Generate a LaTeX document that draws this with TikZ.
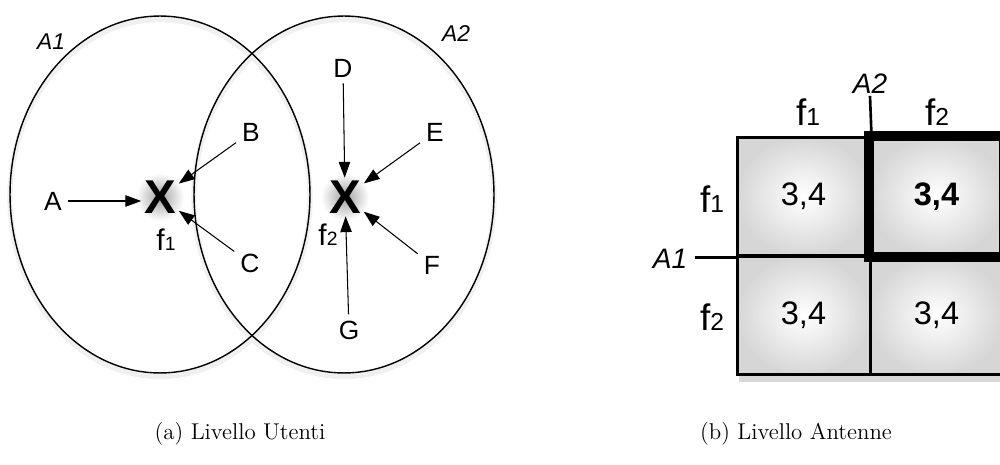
\documentclass[tikz,border=0pt]{standalone}
\usepackage{fontspec}
\newfontfamily\helv{Liberation Sans}
\usetikzlibrary{arrows.meta,shapes.geometric,shadows}

\newcommand{\freq}[3]{{\fontsize{#2}{#2}\selectfont f}{\fontsize{#3}{#3}\selectfont #1}}

\tikzset{
  user/.style={font=\helv\fontsize{15}{15}\selectfont},
  antenna/.style={font=\helv\bfseries\fontsize{27}{27}\selectfont, inner sep=1.5pt},
  zone/.style={draw, ellipse, line width=0.8pt, minimum width=6cm, minimum height=7.14cm, inner sep=0pt},
  zonelbl/.style={font=\helv\itshape\fontsize{13}{13}\selectfont},
  link/.style={line width=0.6pt, -{Triangle[length=9pt,width=6.5pt]}},
  cell/.style={draw, line width=1.7pt, minimum width=2.66cm, minimum height=2.38cm, inner sep=0pt,
    shading=radial, inner color=white, outer color=gray!32,
    font=\helv\fontsize{18.5}{18.5}\selectfont},
  caption/.style={font=\fontsize{13}{15}\selectfont}
}

\begin{document}
\begin{tikzpicture}[x=0.02cm, y=-0.02cm]
\useasboundingbox (0,0) rectangle (1000,465);

% (a) users
\shade[inner color=gray!75, outer color=white] (160,197) circle (24);
\shade[inner color=gray!75, outer color=white] (345,197) circle (24);
\draw[gray!12, line width=3pt] (160,198) ellipse (150 and 178.5);
\draw[gray!12, line width=3pt] (344,198) ellipse (150 and 178.5);
\node[zone] (ellA1) at (160,194.5) {};
\node[zone] (ellA2) at (344,194.5) {};
\node[zonelbl] (lblA1) at (51,42) {A1};
\node[zonelbl] (lblA2) at (456,34) {A2};

\node[antenna] (xf1) at (160,197) {X};
\node[antenna] (xf2) at (345,197) {X};
\node[font=\helv] (lblf1) at (166,240) {\freq{1}{17}{11}};
\node[font=\helv] (lblf2) at (328,235) {\freq{2}{17}{11}};

\node[user] (a) at (53,201) {A};
\node[user] (b) at (251,132) {B};
\node[user] (c) at (250,263) {C};
\node[user] (d) at (343,68) {D};
\node[user] (e) at (435,132) {E};
\node[user] (f) at (432,265) {F};
\node[user] (g) at (349,330) {G};

\draw[link] (a) -- (a -| xf1.west);
\draw[link] (b) -- (xf1);
\draw[link] (c) -- (xf1);
\draw[link] (d) -- (xf2);
\draw[link] (e) -- (xf2);
\draw[link] (f) -- (xf2);
\draw[link] (g) -- (xf2);

% (b) antennas
\fill[white, drop shadow={shadow xshift=1pt, shadow yshift=-4pt, opacity=0.3}] (737,137) rectangle (1003,375);
\node[cell] (c11) at (803.5,196.5) {3,4};
\node[cell] (c12) at (936.5,196.5) {};
\node[cell] (c21) at (803.5,315.5) {3,4};
\node[cell] (c22) at (936.5,315.5) {3,4};
\draw[line width=5.7pt] (c12.north west) rectangle (c12.south east);
\node[font=\helv\bfseries\fontsize{18.5}{18.5}\selectfont] at (c12) {3,4};

\node[font=\helv] (colf1) at (808,112) {\freq{1}{21}{14}};
\node[font=\helv] (colf2) at (937,112) {\freq{2}{21}{14}};
\node[font=\helv] (rowf1) at (712,199) {\freq{1}{21}{14}};
\node[font=\helv] (rowf2) at (712,317) {\freq{2}{21}{14}};
\node[font=\helv\itshape\fontsize{16}{16}\selectfont, inner sep=1pt] (antA2) at (870,84) {A2};
\node[font=\helv\itshape\fontsize{16}{16}\selectfont, inner sep=4pt] (antA1) at (670,259) {A1};
\draw[line width=1.5pt] (antA2.south) -- (c11.north east);
\draw[line width=1.5pt] (antA1.east |- c11.south west) -- (c11.south west);

% captions
\node[caption] (capa) at (240,434) {(a) Livello Utenti};
\node[caption] (capb) at (796,434) {(b) Livello Antenne};
\end{tikzpicture}
\end{document}
